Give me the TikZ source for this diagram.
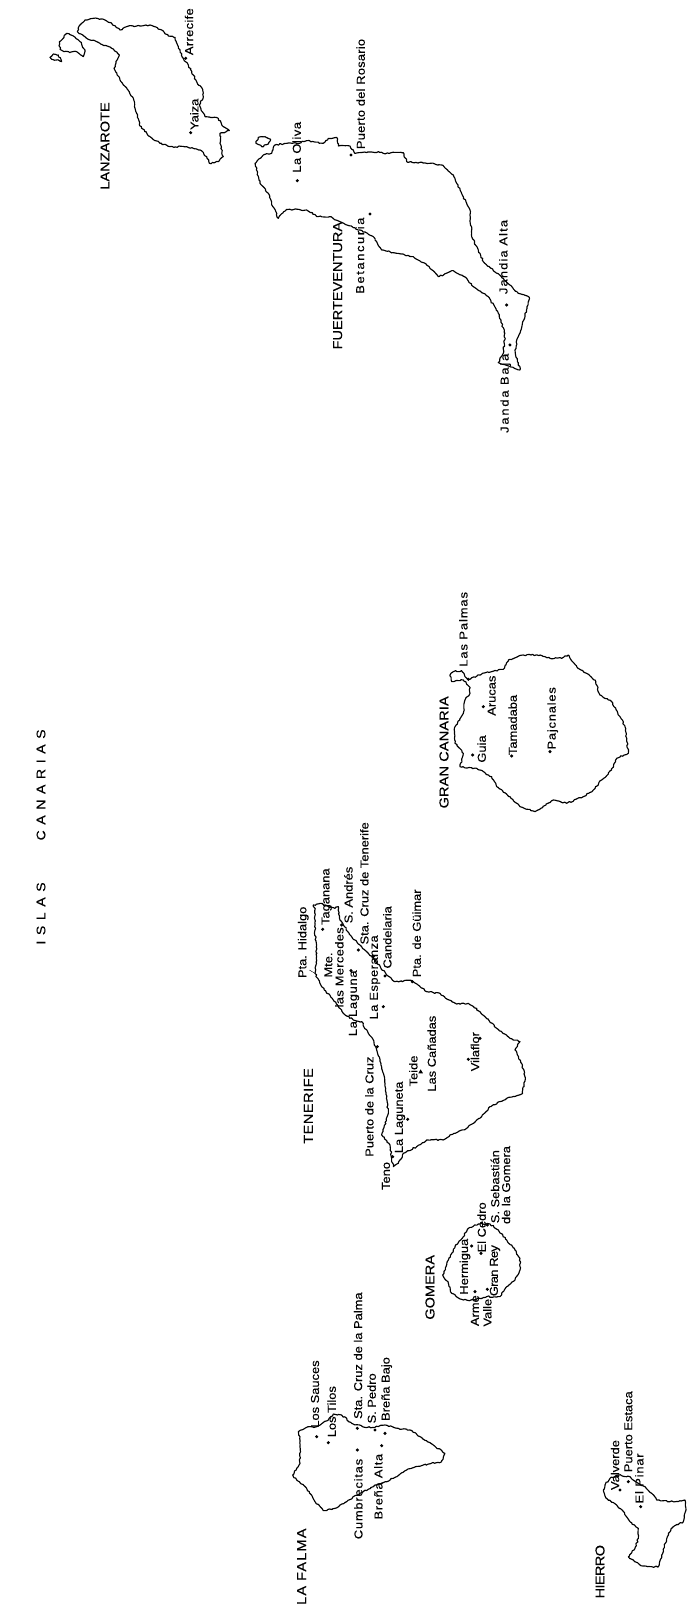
\documentclass[tikz,border=0pt]{standalone}
\usepackage{fontspec}
\setmainfont[FakeStretch=1.12,FakeBold=0.25]{Liberation Sans}
\usetikzlibrary{decorations.pathmorphing}
\newcommand{\labfont}{\fontsize{11.5}{11.5}\selectfont}
\newcommand{\capfont}{\fontsize{13}{13}\selectfont}
\tikzset{
  crop/.style={x=0.3333pt,y=-0.3333pt},
  coast/.style={black,line width=1.15pt,line join=round,decorate,
    decoration={random steps,segment length=1.9pt,amplitude=0.75pt}},
  lab/.style={rotate=90,inner sep=0pt,font=\labfont},
  lsp/.style={rotate=90,inner sep=0pt,font=\labfont\addfontfeature{LetterSpace=#1}},
  capt/.style={rotate=90,inner sep=0pt,font=\capfont\addfontfeature{LetterSpace=#1}},
}
\pgfmathsetseed{11}
\begin{document}
\begin{tikzpicture}[x=1pt,y=-1pt]
  \useasboundingbox (0,0) rectangle (686,1607);
  \node[rotate=90,inner sep=0pt,font=\fontsize{12.5}{12.5}\selectfont\addfontfeature{LetterSpace=45}] (title) at (41,837) {ISLAS\hspace{42pt}CANARIAS};
  % --- Lanzarote ---
  \begin{scope}[shift={(40,0)},crop]
    \draw[coast] (120,75)--(135,60)--(160,55)--(195,60)--(215,70)--(240,90)--(265,78)--(300,78)--(330,75)--(365,90)--(385,108)--(405,112)--(415,140)--(430,175)--(445,195)--(460,225)--(470,245)--(488,268)--(490,290)--(478,315)--(495,350)--(535,355)--(550,380)--(568,392)--(540,400)--(540,430)--(550,470)--(535,485)--(508,490)--(500,470)--(480,450)--(440,440)--(390,440)--(360,430)--(330,410)--(300,378)--(290,340)--(280,295)--(262,268)--(240,240)--(222,205)--(238,165)--(215,145)--(180,130)--(140,115)--(112,95)--cycle;
    \draw[coast] (58,125)--(80,100)--(100,108)--(120,125)--(135,150)--(130,170)--(110,155)--(90,158)--(72,155)--(60,148)--cycle;
    \draw[coast] (30,172)--(40,162)--(55,165)--(65,185)--(50,180)--(35,178)--cycle;
    \foreach \x/\y in {437/175, 452/398}
      \fill (\x,\y) circle(1.7pt);
    \node[lsp=3] (arrecife) at (447,95) {Arrecife};
    \node[lab] (yaiza) at (463,343) {Yaiza};
    \node[capt=0] (lanzarote) at (195,438) {LANZAROTE};
  \end{scope}
  % --- Fuerteventura ---
  \begin{scope}[shift={(240,20)},crop]
    \draw[coast] (45,430)--(70,405)--(95,400)--(105,375)--(140,370)--(170,370)--(200,362)--(250,370)--(265,355)--(290,352)--(295,378)--(330,378)--(345,400)--(415,395)--(430,400)--(490,398)--(500,425)--(570,430)--(605,435)--(640,465)--(665,520)--(690,570)--(695,650)--(715,690)--(730,725)--(790,775)--(835,820)--(868,832)--(855,890)--(835,950)--(825,990)--(840,1050)--(810,1040)--(775,1028)--(790,1000)--(795,940)--(775,880)--(745,830)--(700,800)--(680,775)--(640,752)--(595,770)--(560,735)--(520,710)--(470,700)--(425,690)--(400,650)--(360,630)--(300,605)--(270,590)--(235,590)--(200,570)--(140,568)--(115,595)--(95,550)--(85,520)--(60,490)--cycle;
    \draw[coast] (48,370)--(55,352)--(75,350)--(92,358)--(85,372)--(65,380)--cycle;
    \foreach \x/\y in {172/482, 333/405, 390/582, 800/855, 810/975}
      \fill (\x,\y) circle(1.7pt);
    \node[lsp=5] (oliva) at (170,382) {La Oliva};
    \node[lsp=2] (rosario) at (362,222) {Puerto del Rosario};
    \node[capt=0] (fuerte) at (293,797) {FUERTEVENTURA};
    \node[lsp=14] (betancuria) at (360,707) {Betancuria};
    \node[lsp=10] (jandia) at (790,711) {Jandia Alta};
    \node[lsp=16] (janda) at (797,1120) {Janda Baja};
  \end{scope}
  % --- Gran Canaria ---
  \begin{scope}[shift={(420,580)},crop]
    \draw[coast] (90,285)--(100,275)--(125,272)--(135,290)--(145,298)--(185,282)--(215,275)--(250,268)--(265,240)--(310,225)--(360,225)--(390,235)--(425,235)--(445,225)--(470,260)--(500,280)--(525,300)--(540,345)--(575,365)--(600,410)--(615,440)--(625,520)--(590,535)--(575,570)--(545,600)--(520,630)--(490,650)--(440,670)--(400,660)--(345,695)--(300,680)--(270,650)--(230,620)--(215,590)--(170,565)--(120,560)--(130,520)--(105,490)--(105,440)--(130,400)--(135,360)--(150,340)--(148,320)--(130,300)--(95,305)--cycle;
    \foreach \x/\y in {145/298, 190/380, 158/525, 275/528, 390/515}
      \fill (\x,\y) circle(1.7pt);
    \node[capt=1] (grancanaria) at (72,517) {GRAN CANARIA};
    \node[lsp=8] (palmas) at (130,148) {Las Palmas};
    \node[lab] (arucas) at (215,347) {Arucas};
    \node[lab] (guia) at (185,507) {Guia};
    \node[lab] (tamadaba) at (278,435) {Tamadaba};
    \node[lsp=7] (pajonales) at (398,415) {Pajcnales};
  \end{scope}
  % --- Tenerife ---
  \begin{scope}[shift={(280,810)},crop]
    \draw[coast] (105,490)--(110,440)--(105,360)--(105,300)--(100,285)--(120,280)--(165,295)--(175,290)--(180,330)--(190,345)--(215,380)--(245,410)--(280,445)--(320,495)--(345,515)--(395,512)--(440,545)--(480,550)--(515,575)--(530,582)--(565,580)--(600,605)--(650,655)--(690,685)--(720,695)--(705,720)--(725,760)--(735,800)--(728,850)--(680,865)--(630,890)--(605,920)--(560,955)--(510,975)--(490,990)--(440,990)--(410,1010)--(370,1030)--(355,1060)--(340,1070)--(335,1045)--(330,1005)--(305,975)--(325,910)--(315,820)--(305,770)--(290,720)--(280,690)--(265,670)--(245,635)--(220,630)--(190,610)--(160,570)--(125,530)--cycle;
    \draw[thin] (88,480)--(105,490);
    \foreach \x/\y in {128/358, 185/345, 235/420, 315/498, 397/515, 213/482, 310/590, 280/440, 292/710, 383/928, 338/1040, 565/748, 600/685}
      \fill (\x,\y) circle(1.7pt);
    \fill (422,778)--(415,790)--(429,790)--cycle;
    \node[capt=4] (tenerife) at (85,888) {TENERIFE};
    \node[lab] (hidalgo) at (70,397) {Pta. Hidalgo};
    \node[lab] (taganana) at (140,260) {Taganana};
    \node[lab] (andres) at (205,255) {S. Andr\'es};
    \node[lab] (stacruz) at (253,220) {Sta. Cruz de Tenerife};
    \node[lab] (candelaria) at (322,382) {Candelaria};
    \node[lab] (guimar) at (410,370) {Pta. de G\"uimar};
    \node[lab] (mte) at (145,465) {Mte.};
    \node[lsp=3] (mercedes) at (178,472) {las Mercedes};
    \node[lsp=4] (esperanza) at (285,502) {La Esperanza};
    \node[lsp=6] (laguna) at (222,580) {La Laguna};
    \node[lab] (pcruz) at (268,890) {Puerto de la Cruz};
    \node[lab] (laguneta) at (360,922) {La Laguneta};
    \node[lab] (teide) at (400,783) {Teide};
    \node[lab] (canadas) at (455,731) {Las Ca\~nadas};
    \node[lab] (vilaflor) at (585,725) {Vilaflor};
    \node[lab] (teno) at (318,1098) {Teno};
  \end{scope}
  % --- Gomera ---
  \begin{scope}[shift={(400,1150)},crop]
    \draw[coast] (128,375)--(145,330)--(165,290)--(190,260)--(205,235)--(235,222)--(270,222)--(295,240)--(320,270)--(345,300)--(360,325)--(360,360)--(345,390)--(320,410)--(300,440)--(260,440)--(220,450)--(190,450)--(155,430)--(145,400)--cycle;
    \foreach \x/\y in {262/225, 243/310, 215/288, 262/418, 225/425}
      \fill (\x,\y) circle(1.7pt);
    \node[capt=0] (gomera) at (90,412) {GOMERA};
    \node[lab] (sebastian) at (285,110) {S. Sebasti\'an};
    \node[lab] (delagomera) at (318,105) {de la Gomera};
    \node[lab] (cedro) at (245,232) {El Cedro};
    \node[lab] (hermigua) at (195,350) {Hermigua};
    \node[lsp=-6] (granrey) at (285,362) {Gran Rey};
    \node[lab] (valle) at (262,488) {Valle};
    \node[lab] (arure) at (225,482) {Arme};
  \end{scope}
  % --- La Palma ---
  \begin{scope}[shift={(270,1340)},crop]
    \draw[coast] (68,405)--(90,370)--(90,290)--(85,275)--(110,262)--(140,260)--(175,240)--(190,222)--(215,225)--(245,250)--(285,262)--(315,262)--(345,255)--(385,265)--(420,270)--(450,290)--(490,315)--(525,340)--(515,365)--(460,375)--(410,390)--(370,415)--(320,435)--(270,460)--(230,485)--(195,505)--(160,512)--(135,485)--(110,445)--(80,420)--cycle;
    \foreach \x/\y in {140/290, 175/308, 262/265, 315/270, 345/280, 262/330, 335/317}
      \fill (\x,\y) circle(1.7pt);
    \node[capt=9] (lapalma) at (95,680) {LA\hspace{5pt}FALMA};
    \node[lab] (sauces) at (135,162) {Los Sauces};
    \node[lab] (tilos) at (185,215) {Los Tilos};
    \node[lab] (stacruzp) at (264,47) {Sta. Cruz de la Palma};
    \node[lab] (pedro) at (305,175) {S. Pedro};
    \node[lab] (bajo) at (350,147) {Bre\~na Bajo};
    \node[lsp=7] (cumbrecitas) at (265,477) {Cumbrecitas};
    \node[lsp=6] (alta) at (325,440) {Bre\~na Alta};
  \end{scope}
  % --- Hierro ---
  \begin{scope}[shift={(590,1470)},crop]
    \draw[coast] (40,60)--(50,85)--(80,105)--(100,125)--(120,155)--(145,175)--(145,205)--(135,235)--(115,260)--(130,270)--(150,285)--(185,290)--(205,290)--(215,255)--(235,190)--(250,170)--(280,155)--(288,120)--(285,90)--(270,92)--(240,95)--(200,90)--(185,70)--(165,50)--(145,40)--(120,20)--(85,15)--(60,25)--(45,45)--cycle;
    \foreach \x/\y in {90/60, 115/35, 152/110}
      \fill (\x,\y) circle(1.7pt);
    \node[capt=-5] (hierro) at (30,305) {HIERRO};
    \node[lab] (valverde) at (75,-15) {Valverde};
    \node[lab] (estaca) at (115,-115) {Puerto Estaca};
    \node[lsp=7] (pinar) at (148,25) {El Pinar};
  \end{scope}
\end{tikzpicture}
\end{document}
